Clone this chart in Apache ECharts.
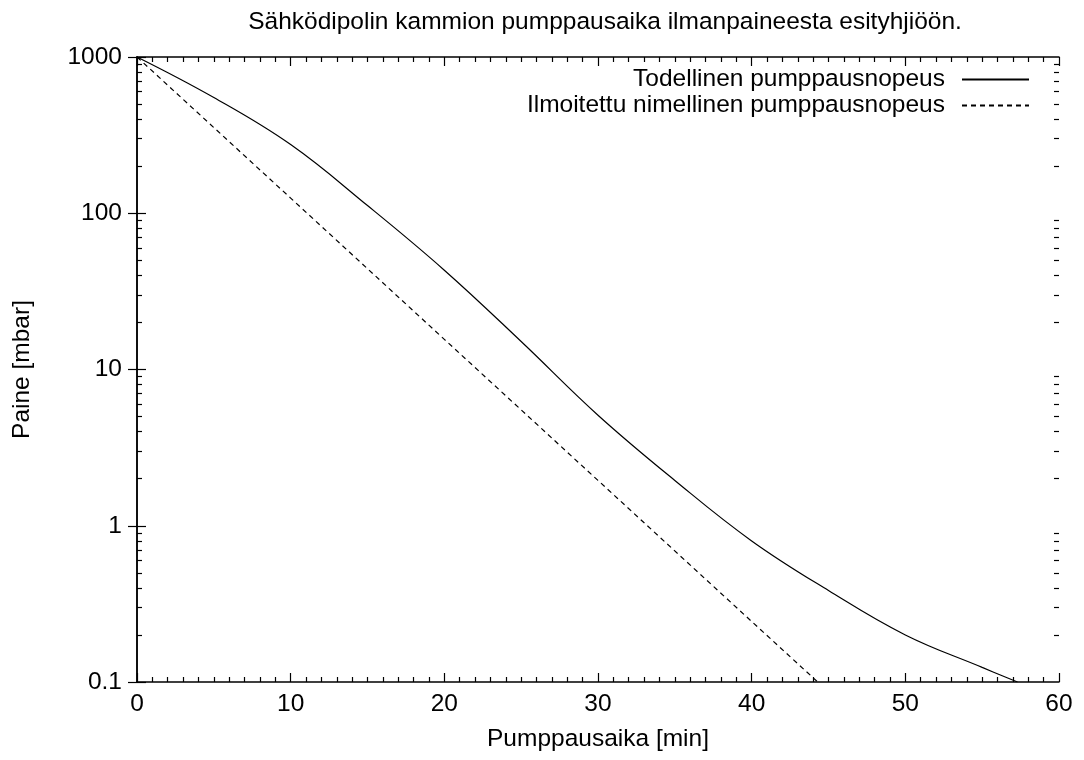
<!DOCTYPE html>
<html>
<head>
<meta charset="utf-8">
<script src="https://cdn.jsdelivr.net/npm/echarts@6/dist/echarts.min.js"></script>
<style>html,body{margin:0;padding:0;background:#fff}#c{width:1084px;height:760px}</style>
</head>
<body>
<div id="c"></div>
<script>
const titleText = 'Sähködipolin kammion pumppausaika ilmanpaineesta esityhjiöön.';
const xName = 'Pumppausaika [min]';
const yName = 'Paine [mbar]';
const seriesNames = ['Todellinen pumppausnopeus', 'Ilmoitettu nimellinen pumppausnopeus'];
// [time min, pressure mbar]
const actualTimes = [0, 5, 10, 15, 20, 25, 30, 35, 40, 45, 50, 55, 57.3];
const actualValues = [1000, 550, 275, 112, 43.2, 15.1, 5.1, 1.95, 0.80, 0.385, 0.20, 0.124, 0.1];
const nominalTimes = [0, 10, 20, 30, 40, 44.3];
const nominalValues = [1000, 125, 15.6, 1.95, 0.244, 0.1];
const yMinorTicks = [0.2,0.3,0.4,0.5,0.6,0.7,0.8,0.9,2,3,4,5,6,7,8,9,20,30,40,50,60,70,80,90,200,300,400,500,600,700,800,900];

const FONT = 'Liberation Sans';
const FS = 24.5;
const chart = echarts.init(document.getElementById('c'), null, {renderer: 'canvas'});
const lineStyleAxis = {color: '#000', width: 1.5};
const gridRect = {left: 137, right: 25, top: 57, bottom: 78};
function xAx(pos, labels) {
  return {
    type: 'value', gridIndex: 0, position: pos, min: 0, max: 60, interval: 10,
    name: labels ? xName : '', nameLocation: 'middle', nameGap: 45,
    nameTextStyle: {fontFamily: FONT, fontSize: FS, color: '#000'},
    axisLine: {show: true, lineStyle: lineStyleAxis},
    axisTick: {show: true, inside: true, length: 9, lineStyle: {color: '#000', width: 1.2}},
    minorTick: {show: true, splitNumber: 10, length: 5, lineStyle: {color: '#000', width: 1.2}},
    axisLabel: {show: labels, margin: 10, fontFamily: FONT, fontSize: FS, color: '#000'},
    splitLine: {show: false}, minorSplitLine: {show: false}
  };
}
function yAx(pos, labels) {
  return {
    type: 'log', gridIndex: 0, logBase: 10, position: pos, min: 0.1, max: 1000,
    name: labels ? yName : '', nameLocation: 'middle', nameGap: 102,
    nameTextStyle: {fontFamily: FONT, fontSize: FS, color: '#000'},
    axisLine: {show: true, lineStyle: lineStyleAxis},
    axisTick: {show: true, inside: true, length: 9, lineStyle: {color: '#000', width: 1.2}},
    axisLabel: {show: labels, margin: 15, fontFamily: FONT, fontSize: FS, color: '#000',
      formatter: v => String(v)},
    splitLine: {show: false}
  };
}
function yMinor(pos) {
  return {
    type: 'log', gridIndex: 1, logBase: 10, position: pos, min: 0.1, max: 1000,
    axisLine: {show: false},
    axisTick: {show: true, inside: true, length: 5, customValues: yMinorTicks, lineStyle: {color: '#000', width: 1.2}},
    axisLabel: {show: false},
    splitLine: {show: false}
  };
}
chart.setOption({
  animation: false,
  backgroundColor: '#fff',
  title: {text: titleText, left: 600, top: 5, textAlign: 'center',
    textStyle: {fontFamily: FONT, fontSize: FS, fontWeight: 'normal', color: '#000'}},
  grid: [Object.assign({}, gridRect), Object.assign({}, gridRect)],
  legend: {
    orient: 'vertical', right: 49, top: 62, align: 'right', itemGap: 1,
    itemWidth: 67, itemHeight: 14,
    itemStyle: {opacity: 0},
    textStyle: {fontFamily: FONT, fontSize: FS, color: '#000', padding: [0, 12, 0, 0]},
    data: seriesNames
  },
  xAxis: [xAx('bottom', true), xAx('top', false),
    {type: 'value', gridIndex: 1, min: 0, max: 60, show: false}],
  yAxis: [yAx('left', true), yAx('right', false), yMinor('left'), yMinor('right')],
  series: [
    {name: seriesNames[0], type: 'line', data: actualTimes.map((t, i) => [t, actualValues[i]]),
      smooth: 0.4, symbol: 'none',
      lineStyle: {color: '#000', width: 1.2, type: 'solid'}, itemStyle: {color: '#000'}},
    {name: seriesNames[1], type: 'line', data: nominalTimes.map((t, i) => [t, nominalValues[i]]), symbol: 'none',
      lineStyle: {color: '#000', width: 1.2, type: [5, 4]}, itemStyle: {color: '#000'}}
  ]
});
</script>
</body>
</html>
